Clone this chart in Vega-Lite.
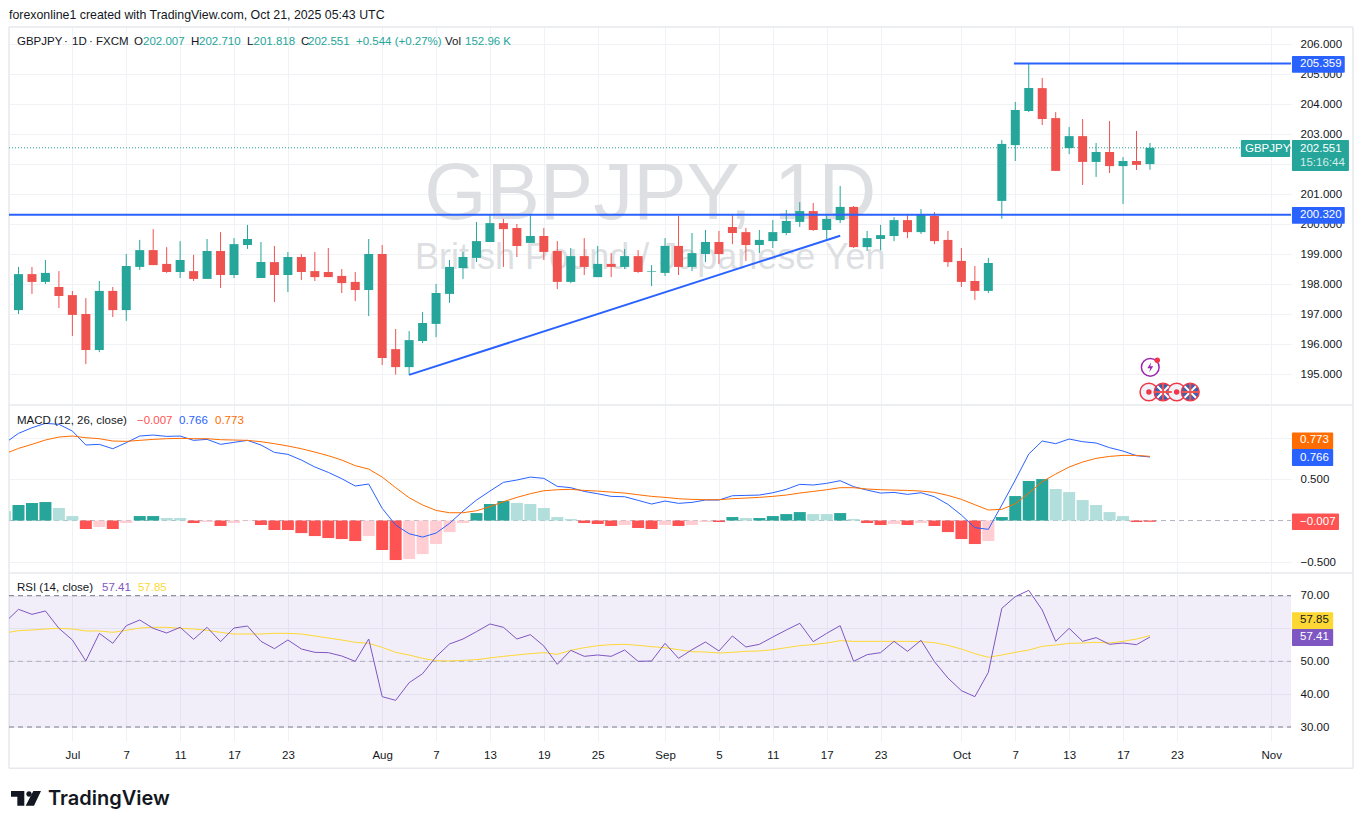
{
  "$schema": "https://vega.github.io/schema/vega-lite/v6.json",
  "padding": 0,
  "background": "white",
  "spacing": 0,
  "bounds": "flush",
  "resolve": {"scale": {"color": "independent"}},
  "config": {
    "font": "Liberation Sans",
    "view": {"stroke": null},
    "axis": {"labelFont": "Liberation Sans", "labelFontSize": 11.5, "labelColor": "#131722", "gridColor": "#f0f2f6", "gridWidth": 1, "domain": false, "ticks": false, "labelOverlap": false, "titlePadding": 0, "titleFontSize": 0, "titleOpacity": 0},
    "text": {"font": "Liberation Sans", "fontSize": 11.5, "align": "left", "baseline": "middle"}
  },
  "datasets": {
    "candles": [
      {"i":0,"dir":"up","o":197.14,"h":198.58,"l":197.01,"c":198.34},
      {"i":1,"dir":"down","o":198.34,"h":198.58,"l":197.68,"c":198.08},
      {"i":2,"dir":"up","o":198.08,"h":198.81,"l":198.01,"c":198.38},
      {"i":3,"dir":"down","o":197.91,"h":198.44,"l":197.21,"c":197.61},
      {"i":4,"dir":"down","o":197.64,"h":197.78,"l":196.28,"c":196.98},
      {"i":5,"dir":"down","o":197.01,"h":197.54,"l":195.34,"c":195.81},
      {"i":6,"dir":"up","o":195.81,"h":198.11,"l":195.74,"c":197.78},
      {"i":7,"dir":"down","o":197.78,"h":197.91,"l":196.91,"c":197.14},
      {"i":8,"dir":"up","o":197.14,"h":199.01,"l":196.78,"c":198.61},
      {"i":9,"dir":"up","o":198.58,"h":199.48,"l":198.48,"c":199.14},
      {"i":10,"dir":"down","o":199.14,"h":199.84,"l":198.64,"c":198.64},
      {"i":11,"dir":"down","o":198.68,"h":199.24,"l":198.38,"c":198.41},
      {"i":12,"dir":"up","o":198.41,"h":199.44,"l":198.21,"c":198.81},
      {"i":13,"dir":"down","o":198.44,"h":198.98,"l":198.11,"c":198.18},
      {"i":14,"dir":"up","o":198.18,"h":199.51,"l":198.18,"c":199.11},
      {"i":15,"dir":"down","o":199.11,"h":199.74,"l":197.88,"c":198.31},
      {"i":16,"dir":"up","o":198.31,"h":199.54,"l":198.21,"c":199.34},
      {"i":17,"dir":"up","o":199.31,"h":199.98,"l":199.18,"c":199.51},
      {"i":18,"dir":"up","o":198.21,"h":199.41,"l":198.21,"c":198.74},
      {"i":19,"dir":"down","o":198.74,"h":199.28,"l":197.41,"c":198.31},
      {"i":20,"dir":"up","o":198.31,"h":199.08,"l":197.74,"c":198.91},
      {"i":21,"dir":"down","o":198.91,"h":199.01,"l":198.14,"c":198.41},
      {"i":22,"dir":"down","o":198.44,"h":199.08,"l":198.11,"c":198.24},
      {"i":23,"dir":"down","o":198.41,"h":199.21,"l":198.24,"c":198.24},
      {"i":24,"dir":"down","o":198.28,"h":198.51,"l":197.71,"c":198.04},
      {"i":25,"dir":"down","o":198.08,"h":198.41,"l":197.44,"c":197.81},
      {"i":26,"dir":"up","o":197.81,"h":199.51,"l":196.94,"c":199.01},
      {"i":27,"dir":"down","o":199.01,"h":199.31,"l":195.31,"c":195.54},
      {"i":28,"dir":"down","o":195.84,"h":196.51,"l":194.99,"c":195.24},
      {"i":29,"dir":"up","o":195.24,"h":196.44,"l":194.98,"c":196.14},
      {"i":30,"dir":"up","o":196.11,"h":197.08,"l":196.04,"c":196.71},
      {"i":31,"dir":"up","o":196.68,"h":198.01,"l":196.24,"c":197.71},
      {"i":32,"dir":"up","o":197.68,"h":198.81,"l":197.38,"c":198.58},
      {"i":33,"dir":"up","o":198.54,"h":199.08,"l":198.18,"c":198.91},
      {"i":34,"dir":"up","o":198.88,"h":200.08,"l":198.74,"c":199.44},
      {"i":35,"dir":"up","o":199.41,"h":200.31,"l":199.41,"c":200.04},
      {"i":36,"dir":"down","o":200.04,"h":200.18,"l":198.58,"c":199.84},
      {"i":37,"dir":"down","o":199.88,"h":200.01,"l":198.91,"c":199.28},
      {"i":38,"dir":"up","o":199.38,"h":200.31,"l":199.38,"c":199.61},
      {"i":39,"dir":"down","o":199.61,"h":199.88,"l":198.81,"c":199.08},
      {"i":40,"dir":"down","o":199.11,"h":199.44,"l":197.84,"c":198.08},
      {"i":41,"dir":"up","o":198.08,"h":199.21,"l":198.04,"c":198.94},
      {"i":42,"dir":"down","o":198.94,"h":199.54,"l":198.31,"c":198.58},
      {"i":43,"dir":"up","o":198.24,"h":199.28,"l":198.24,"c":198.68},
      {"i":44,"dir":"down","o":198.68,"h":199.04,"l":198.24,"c":198.58},
      {"i":45,"dir":"up","o":198.58,"h":199.18,"l":198.51,"c":198.94},
      {"i":46,"dir":"down","o":198.94,"h":199.14,"l":198.38,"c":198.41},
      {"i":47,"dir":"up","o":198.42,"h":198.64,"l":197.94,"c":198.44},
      {"i":48,"dir":"up","o":198.38,"h":199.54,"l":198.28,"c":199.28},
      {"i":49,"dir":"down","o":199.28,"h":200.28,"l":198.31,"c":198.58},
      {"i":50,"dir":"up","o":198.58,"h":199.71,"l":198.44,"c":199.04},
      {"i":51,"dir":"up","o":199.01,"h":199.81,"l":198.74,"c":199.41},
      {"i":52,"dir":"down","o":199.41,"h":199.78,"l":198.68,"c":199.01},
      {"i":53,"dir":"down","o":199.91,"h":200.34,"l":199.34,"c":199.71},
      {"i":54,"dir":"down","o":199.74,"h":199.88,"l":198.78,"c":199.31},
      {"i":55,"dir":"up","o":199.31,"h":199.81,"l":199.04,"c":199.48},
      {"i":56,"dir":"up","o":199.44,"h":200.14,"l":199.21,"c":199.74},
      {"i":57,"dir":"up","o":199.71,"h":200.48,"l":199.64,"c":200.11},
      {"i":58,"dir":"up","o":200.08,"h":200.74,"l":199.91,"c":200.44},
      {"i":59,"dir":"down","o":200.44,"h":200.71,"l":199.78,"c":199.81},
      {"i":60,"dir":"up","o":199.81,"h":200.34,"l":199.51,"c":200.18},
      {"i":61,"dir":"up","o":200.14,"h":201.28,"l":200.04,"c":200.58},
      {"i":62,"dir":"down","o":200.58,"h":200.61,"l":199.21,"c":199.24},
      {"i":63,"dir":"up","o":199.24,"h":199.78,"l":199.11,"c":199.54},
      {"i":64,"dir":"up","o":199.51,"h":199.98,"l":199.14,"c":199.64},
      {"i":65,"dir":"up","o":199.61,"h":200.24,"l":199.44,"c":200.14},
      {"i":66,"dir":"down","o":200.14,"h":200.34,"l":199.54,"c":199.74},
      {"i":67,"dir":"up","o":199.74,"h":200.51,"l":199.68,"c":200.31},
      {"i":68,"dir":"down","o":200.28,"h":200.41,"l":199.34,"c":199.44},
      {"i":69,"dir":"down","o":199.48,"h":199.78,"l":198.58,"c":198.74},
      {"i":70,"dir":"down","o":198.78,"h":199.21,"l":197.91,"c":198.08},
      {"i":71,"dir":"down","o":198.11,"h":198.61,"l":197.48,"c":197.78},
      {"i":72,"dir":"up","o":197.78,"h":198.88,"l":197.71,"c":198.71},
      {"i":73,"dir":"up","o":200.78,"h":202.81,"l":200.18,"c":202.68},
      {"i":74,"dir":"up","o":202.64,"h":204.08,"l":202.11,"c":203.81},
      {"i":75,"dir":"up","o":203.78,"h":205.34,"l":203.74,"c":204.54},
      {"i":76,"dir":"down","o":204.54,"h":204.88,"l":203.31,"c":203.51},
      {"i":77,"dir":"down","o":203.54,"h":203.74,"l":201.78,"c":201.78},
      {"i":78,"dir":"up","o":202.54,"h":203.24,"l":202.34,"c":202.94},
      {"i":79,"dir":"down","o":202.94,"h":203.51,"l":201.31,"c":202.08},
      {"i":80,"dir":"up","o":202.08,"h":202.71,"l":201.58,"c":202.41},
      {"i":81,"dir":"down","o":202.41,"h":203.44,"l":201.71,"c":201.94},
      {"i":82,"dir":"up","o":201.94,"h":202.24,"l":200.68,"c":202.11},
      {"i":83,"dir":"down","o":202.11,"h":203.11,"l":201.81,"c":201.98},
      {"i":84,"dir":"up","o":202.007,"h":202.71,"l":201.818,"c":202.551}
    ],
    "macd": [
      {"i":-1,"hist":0.114,"state":"L","macd":0.934,"signal":0.805},
      {"i":0,"hist":0.187,"state":"G","macd":1.05,"signal":0.869},
      {"i":1,"hist":0.211,"state":"G","macd":1.118,"signal":0.918},
      {"i":2,"hist":0.223,"state":"G","macd":1.171,"signal":0.97},
      {"i":3,"hist":0.151,"state":"L","macd":1.159,"signal":1.006},
      {"i":4,"hist":0.054,"state":"L","macd":1.078,"signal":1.018},
      {"i":5,"hist":-0.102,"state":"R","macd":0.91,"signal":0.998},
      {"i":6,"hist":-0.078,"state":"P","macd":0.918,"signal":0.986},
      {"i":7,"hist":-0.102,"state":"R","macd":0.865,"signal":0.958},
      {"i":8,"hist":-0.03,"state":"P","macd":0.938,"signal":0.954},
      {"i":9,"hist":0.054,"state":"G","macd":1.018,"signal":0.966},
      {"i":10,"hist":0.054,"state":"G","macd":1.03,"signal":0.978},
      {"i":11,"hist":0.03,"state":"L","macd":1.014,"signal":0.986},
      {"i":12,"hist":0.03,"state":"L","macd":1.018,"signal":0.99},
      {"i":13,"hist":-0.03,"state":"R","macd":0.966,"signal":0.986},
      {"i":14,"hist":-0.018,"state":"P","macd":0.978,"signal":0.986},
      {"i":15,"hist":-0.066,"state":"R","macd":0.918,"signal":0.974},
      {"i":16,"hist":-0.03,"state":"P","macd":0.942,"signal":0.97},
      {"i":17,"hist":-0.006,"state":"P","macd":0.966,"signal":0.966},
      {"i":18,"hist":-0.054,"state":"R","macd":0.91,"signal":0.95},
      {"i":19,"hist":-0.114,"state":"R","macd":0.821,"signal":0.926},
      {"i":20,"hist":-0.114,"state":"R","macd":0.797,"signal":0.898},
      {"i":21,"hist":-0.151,"state":"R","macd":0.729,"signal":0.865},
      {"i":22,"hist":-0.187,"state":"R","macd":0.645,"signal":0.825},
      {"i":23,"hist":-0.211,"state":"R","macd":0.58,"signal":0.781},
      {"i":24,"hist":-0.223,"state":"R","macd":0.504,"signal":0.729},
      {"i":25,"hist":-0.247,"state":"R","macd":0.416,"signal":0.661},
      {"i":26,"hist":-0.187,"state":"P","macd":0.44,"signal":0.62},
      {"i":27,"hist":-0.355,"state":"R","macd":0.147,"signal":0.524},
      {"i":28,"hist":-0.476,"state":"R","macd":-0.054,"signal":0.396},
      {"i":29,"hist":-0.464,"state":"P","macd":-0.159,"signal":0.275},
      {"i":30,"hist":-0.404,"state":"P","macd":-0.199,"signal":0.187},
      {"i":31,"hist":-0.283,"state":"P","macd":-0.151,"signal":0.122},
      {"i":32,"hist":-0.139,"state":"P","macd":-0.034,"signal":0.094},
      {"i":33,"hist":-0.03,"state":"P","macd":0.114,"signal":0.094},
      {"i":34,"hist":0.09,"state":"G","macd":0.247,"signal":0.118},
      {"i":35,"hist":0.199,"state":"G","macd":0.355,"signal":0.167},
      {"i":36,"hist":0.235,"state":"G","macd":0.46,"signal":0.227},
      {"i":37,"hist":0.211,"state":"L","macd":0.488,"signal":0.279},
      {"i":38,"hist":0.199,"state":"L","macd":0.524,"signal":0.323},
      {"i":39,"hist":0.151,"state":"L","macd":0.508,"signal":0.359},
      {"i":40,"hist":0.042,"state":"L","macd":0.412,"signal":0.371},
      {"i":41,"hist":0.018,"state":"L","macd":0.396,"signal":0.376},
      {"i":42,"hist":-0.03,"state":"R","macd":0.351,"signal":0.363},
      {"i":43,"hist":-0.042,"state":"R","macd":0.323,"signal":0.355},
      {"i":44,"hist":-0.066,"state":"R","macd":0.291,"signal":0.343},
      {"i":45,"hist":-0.054,"state":"P","macd":0.287,"signal":0.331},
      {"i":46,"hist":-0.09,"state":"R","macd":0.243,"signal":0.311},
      {"i":47,"hist":-0.102,"state":"R","macd":0.199,"signal":0.291},
      {"i":48,"hist":-0.054,"state":"P","macd":0.235,"signal":0.279},
      {"i":49,"hist":-0.066,"state":"R","macd":0.207,"signal":0.263},
      {"i":50,"hist":-0.054,"state":"P","macd":0.219,"signal":0.255},
      {"i":51,"hist":-0.018,"state":"P","macd":0.247,"signal":0.251},
      {"i":52,"hist":-0.018,"state":"R","macd":0.247,"signal":0.251},
      {"i":53,"hist":0.042,"state":"G","macd":0.299,"signal":0.263},
      {"i":54,"hist":0.03,"state":"L","macd":0.303,"signal":0.271},
      {"i":55,"hist":0.03,"state":"G","macd":0.307,"signal":0.279},
      {"i":56,"hist":0.054,"state":"G","macd":0.335,"signal":0.291},
      {"i":57,"hist":0.078,"state":"G","macd":0.376,"signal":0.307},
      {"i":58,"hist":0.102,"state":"G","macd":0.436,"signal":0.331},
      {"i":59,"hist":0.078,"state":"L","macd":0.428,"signal":0.351},
      {"i":60,"hist":0.078,"state":"L","macd":0.448,"signal":0.371},
      {"i":61,"hist":0.09,"state":"G","macd":0.48,"signal":0.396},
      {"i":62,"hist":0.018,"state":"L","macd":0.408,"signal":0.396},
      {"i":63,"hist":-0.03,"state":"R","macd":0.367,"signal":0.38},
      {"i":64,"hist":-0.054,"state":"R","macd":0.331,"signal":0.371},
      {"i":65,"hist":-0.042,"state":"P","macd":0.339,"signal":0.367},
      {"i":66,"hist":-0.054,"state":"R","macd":0.315,"signal":0.363},
      {"i":67,"hist":-0.03,"state":"P","macd":0.335,"signal":0.355},
      {"i":68,"hist":-0.066,"state":"R","macd":0.287,"signal":0.339},
      {"i":69,"hist":-0.139,"state":"R","macd":0.195,"signal":0.303},
      {"i":70,"hist":-0.223,"state":"R","macd":0.066,"signal":0.255},
      {"i":71,"hist":-0.283,"state":"R","macd":-0.086,"signal":0.191},
      {"i":72,"hist":-0.247,"state":"P","macd":-0.106,"signal":0.127},
      {"i":73,"hist":0.042,"state":"G","macd":0.187,"signal":0.135},
      {"i":74,"hist":0.295,"state":"G","macd":0.488,"signal":0.203},
      {"i":75,"hist":0.476,"state":"G","macd":0.801,"signal":0.331},
      {"i":76,"hist":0.5,"state":"G","macd":0.958,"signal":0.468},
      {"i":77,"hist":0.38,"state":"L","macd":0.926,"signal":0.56},
      {"i":78,"hist":0.343,"state":"L","macd":0.982,"signal":0.645},
      {"i":79,"hist":0.247,"state":"L","macd":0.95,"signal":0.705},
      {"i":80,"hist":0.187,"state":"L","macd":0.934,"signal":0.749},
      {"i":81,"hist":0.102,"state":"L","macd":0.878,"signal":0.773},
      {"i":82,"hist":0.054,"state":"L","macd":0.837,"signal":0.785},
      {"i":83,"hist":-0.018,"state":"R","macd":0.781,"signal":0.785},
      {"i":84,"hist":-0.015,"state":"R","macd":0.766,"signal":0.773}
    ],
    "rsi": [
      {"i":-1,"rsi":61.88,"ma":58.63},{"i":0,"rsi":65.84,"ma":59.34},{"i":1,"rsi":64.31,"ma":59.54},{"i":2,"rsi":65.33,"ma":59.85},
      {"i":3,"rsi":60.05,"ma":60.05},{"i":4,"rsi":56.5,"ma":59.85},{"i":5,"rsi":50.1,"ma":59.24},{"i":6,"rsi":58.53,"ma":59.24},
      {"i":7,"rsi":55.48,"ma":58.83},{"i":8,"rsi":60.86,"ma":59.44},{"i":9,"rsi":62.59,"ma":60.15},{"i":10,"rsi":60.05,"ma":60.36},
      {"i":11,"rsi":58.63,"ma":60.36},{"i":12,"rsi":60.36,"ma":60.05},{"i":13,"rsi":56.7,"ma":59.85},{"i":14,"rsi":60.36,"ma":59.44},
      {"i":15,"rsi":55.99,"ma":58.83},{"i":16,"rsi":60.15,"ma":58.32},{"i":17,"rsi":60.76,"ma":58.32},{"i":18,"rsi":56.09,"ma":58.32},
      {"i":19,"rsi":53.86,"ma":58.53},{"i":20,"rsi":56.5,"ma":58.53},{"i":21,"rsi":53.76,"ma":58.32},{"i":22,"rsi":52.74,"ma":57.72},
      {"i":23,"rsi":52.64,"ma":57.11},{"i":24,"rsi":51.62,"ma":56.5},{"i":25,"rsi":50.0,"ma":55.79},{"i":26,"rsi":56.8,"ma":55.48},
      {"i":27,"rsi":39.24,"ma":54.26},{"i":28,"rsi":38.12,"ma":52.74},{"i":29,"rsi":43.5,"ma":51.93},{"i":30,"rsi":46.24,"ma":50.91},
      {"i":31,"rsi":51.42,"ma":50.2},{"i":32,"rsi":55.28,"ma":50.1},{"i":33,"rsi":56.8,"ma":50.3},{"i":34,"rsi":59.04,"ma":50.51},
      {"i":35,"rsi":61.37,"ma":51.02},{"i":36,"rsi":60.36,"ma":51.52},{"i":37,"rsi":56.8,"ma":51.93},{"i":38,"rsi":58.12,"ma":52.34},
      {"i":39,"rsi":54.67,"ma":52.64},{"i":40,"rsi":49.09,"ma":52.13},{"i":41,"rsi":53.35,"ma":53.35},{"i":42,"rsi":51.52,"ma":54.16},
      {"i":43,"rsi":51.93,"ma":54.77},{"i":44,"rsi":51.52,"ma":55.08},{"i":45,"rsi":53.45,"ma":55.18},{"i":46,"rsi":50.0,"ma":54.87},
      {"i":47,"rsi":50.1,"ma":54.47},{"i":48,"rsi":55.48,"ma":54.16},{"i":49,"rsi":50.91,"ma":53.55},{"i":50,"rsi":53.55,"ma":52.94},
      {"i":51,"rsi":55.89,"ma":52.84},{"i":52,"rsi":53.15,"ma":52.54},{"i":53,"rsi":57.72,"ma":52.74},{"i":54,"rsi":54.37,"ma":53.05},
      {"i":55,"rsi":55.18,"ma":53.15},{"i":56,"rsi":57.41,"ma":53.55},{"i":57,"rsi":59.54,"ma":54.16},{"i":58,"rsi":61.57,"ma":54.77},
      {"i":59,"rsi":55.99,"ma":55.08},{"i":60,"rsi":58.53,"ma":55.58},{"i":61,"rsi":60.86,"ma":56.29},{"i":62,"rsi":50.0,"ma":56.09},
      {"i":63,"rsi":52.03,"ma":56.09},{"i":64,"rsi":52.64,"ma":56.09},{"i":65,"rsi":56.09,"ma":56.09},{"i":66,"rsi":53.05,"ma":56.09},
      {"i":67,"rsi":56.4,"ma":55.99},{"i":68,"rsi":49.9,"ma":55.69},{"i":69,"rsi":44.92,"ma":54.87},{"i":70,"rsi":41.07,"ma":53.76},
      {"i":71,"rsi":39.24,"ma":52.34},{"i":72,"rsi":46.65,"ma":51.22},{"i":73,"rsi":66.14,"ma":51.93},{"i":74,"rsi":69.7,"ma":52.74},
      {"i":75,"rsi":71.62,"ma":53.45},{"i":76,"rsi":65.63,"ma":54.57},{"i":77,"rsi":56.09,"ma":54.97},{"i":78,"rsi":60.05,"ma":55.48},
      {"i":79,"rsi":56.09,"ma":55.58},{"i":80,"rsi":57.21,"ma":55.79},{"i":81,"rsi":55.18,"ma":55.58},{"i":82,"rsi":55.58,"ma":56.09},
      {"i":83,"rsi":55.08,"ma":56.8},{"i":84,"rsi":57.41,"ma":57.85}
    ]
  },
  "vconcat": [
    {
      "width": 1282,
      "height": 378,
      "resolve": {"scale": {"color": "independent", "fill": "independent", "stroke": "independent"}},
      "encoding": {
        "x": {"field": "i", "type": "quantitative", "title": null, "scale": {"domain": [-0.705, 94.469], "nice": false, "zero": false, "padding": 0},
          "axis": {"values": [4,8,12,16,20,27,31,35,39,43,48,52,56,60,64,70,74,78,82,86,93], "labels": false, "grid": true}},
        "y": {"field": "p", "type": "quantitative", "title": null, "scale": {"domain": [193.977, 206.577], "nice": false, "zero": false},
          "axis": {"orient": "right", "values": [195,196,197,198,199,200,201,202,203,204,205,206], "format": ".3f", "labelPadding": 9, "grid": true}}
      },
      "layer": [
        {
          "data": {"values": [
            {"i":-0.705,"i2":99.07,"p":206.577,"p2":206.577},
            {"i":-0.705,"i2":-0.705,"p":206.577,"p2":193.977},
            {"i":99.07,"i2":99.07,"p":206.577,"p2":193.977},
            {"i":-0.705,"i2":99.07,"p":193.977,"p2":193.977}
          ]},
          "mark": {"type": "rule", "color": "#e6e8ee", "strokeWidth": 1.5},
          "encoding": {"x2": {"field": "i2"}, "y2": {"field": "p2"}}
        },
        {
          "data": {"values": [{"i": 46.9, "p": 200.98, "label": "GBPJPY, 1D"}]},
          "mark": {"type": "text", "align": "center", "fontSize": 80, "color": "#dddfe2"},
          "encoding": {"text": {"field": "label"}}
        },
        {
          "data": {"values": [{"i": 46.9, "p": 198.88, "label": "British Pound / Japanese Yen"}]},
          "mark": {"type": "text", "align": "center", "fontSize": 36, "color": "#dddfe2"},
          "encoding": {"text": {"field": "label"}}
        },
        {
          "data": {"values": [{"i":-0.705,"i2":94.469,"p":202.551,"p2":202.551}]},
          "mark": {"type": "rule", "color": "#26a69a", "strokeWidth": 1, "strokeDash": [1, 2]},
          "encoding": {"x2": {"field": "i2"}, "y2": {"field": "p2"}}
        },
        {
          "data": {"name": "candles"},
          "mark": {"type": "rule", "strokeWidth": 1},
          "encoding": {
            "y": {"field": "l", "type": "quantitative", "title": null},
            "y2": {"field": "h"},
            "color": {"field": "dir", "type": "nominal", "scale": {"domain": ["up", "down"], "range": ["#26a69a", "#ef5350"]}, "legend": null}
          }
        },
        {
          "data": {"name": "candles"},
          "mark": {"type": "bar", "size": 9, "orient": "vertical"},
          "encoding": {
            "y": {"field": "o", "type": "quantitative", "title": null, "stack": null},
            "y2": {"field": "c"},
            "color": {"field": "dir", "type": "nominal", "scale": {"domain": ["up", "down"], "range": ["#26a69a", "#ef5350"]}, "legend": null}
          }
        },
        {
          "data": {"values": [
            {"i":-0.705,"i2":94.469,"p":200.32,"p2":200.32},
            {"i":73.9,"i2":94.469,"p":205.359,"p2":205.359},
            {"i":29,"i2":61,"p":194.98,"p2":199.62}
          ]},
          "mark": {"type": "rule", "color": "#2962ff", "strokeWidth": 2},
          "encoding": {"x2": {"field": "i2"}, "y2": {"field": "p2"}}
        },
        {
          "data": {"values": [
            {"i":94.54,"i2":98.46,"p":205.61,"p2":205.05,"kind":"blue"},
            {"i":94.54,"i2":98.46,"p":200.58,"p2":200.02,"kind":"blue"},
            {"i":90.75,"i2":94.4,"p":202.81,"p2":202.24,"kind":"teal"},
            {"i":94.54,"i2":98.77,"p":202.81,"p2":201.78,"kind":"teal"}
          ]},
          "mark": {"type": "rect", "cornerRadius": 1},
          "encoding": {
            "x2": {"field": "i2"},
            "y2": {"field": "p2"},
            "color": {"field": "kind", "type": "nominal", "scale": {"domain": ["blue", "teal"], "range": ["#2962ff", "#26a69a"]}, "legend": null}
          }
        },
        {
          "data": {"values": [{"i":-0.705,"p":206.977,"label":"forexonline1 created with TradingView.com, Oct 21, 2025 05:43 UTC"}]},
          "mark": {"type": "text", "fontSize": 12.36, "color": "#131722"},
          "encoding": {"text": {"field": "label"}}
        },
        {
          "data": {"values": [
            {"i":-0.111,"p":206.087,"label":"GBPJPY","kind":"dark"},
            {"i":3.378,"p":206.087,"label":"·","kind":"dark"},
            {"i":3.972,"p":206.087,"label":"1D","kind":"dark"},
            {"i":5.234,"p":206.087,"label":"·","kind":"dark"},
            {"i":5.753,"p":206.087,"label":"FXCM","kind":"dark"},
            {"i":8.575,"p":206.087,"label":"O","kind":"dark"},
            {"i":9.243,"p":206.087,"label":"202.007","kind":"teal"},
            {"i":12.806,"p":206.087,"label":"H","kind":"dark"},
            {"i":13.4,"p":206.087,"label":"202.710","kind":"teal"},
            {"i":16.964,"p":206.087,"label":"L","kind":"dark"},
            {"i":17.446,"p":206.087,"label":"201.818","kind":"teal"},
            {"i":20.973,"p":206.087,"label":"C","kind":"dark"},
            {"i":21.492,"p":206.087,"label":"202.551","kind":"teal"},
            {"i":25.056,"p":206.087,"label":"+0.544 (+0.27%)","kind":"teal"},
            {"i":31.663,"p":206.087,"label":"Vol","kind":"dark"},
            {"i":33.148,"p":206.087,"label":"152.96 K","kind":"teal"},
            {"i":95.14,"p":205.33,"label":"205.359","kind":"white"},
            {"i":95.14,"p":200.3,"label":"200.320","kind":"white"},
            {"i":91.05,"p":202.52,"label":"GBPJPY","kind":"white"},
            {"i":95.14,"p":202.52,"label":"202.551","kind":"white"},
            {"i":95.14,"p":202.05,"label":"15:16:44","kind":"muted"}
          ]},
          "mark": {"type": "text"},
          "encoding": {
            "text": {"field": "label"},
            "color": {"field": "kind", "type": "nominal", "scale": {"domain": ["dark", "teal", "white", "muted"], "range": ["#131722", "#26a69a", "#ffffff", "#d4edea"]}, "legend": null}
          }
        },
        {
          "data": {"values": [
            {"i":84.02,"p":195.233,"kind":"energy"},
            {"i":83.92,"p":194.41,"kind":"calendar"},
            {"i":84.97,"p":194.41,"kind":"flag"},
            {"i":85.98,"p":194.41,"kind":"calendar"},
            {"i":86.99,"p":194.41,"kind":"flag"}
          ]},
          "mark": {"type": "point", "filled": true, "shape": "circle", "size": 314, "strokeWidth": 1.5, "opacity": 1},
          "encoding": {
            "fill": {"field": "kind", "type": "nominal", "scale": {"domain": ["energy", "calendar", "flag"], "range": ["#ffffff", "#f0f3fa", "#3f5fb0"]}, "legend": null},
            "stroke": {"field": "kind", "type": "nominal", "scale": {"domain": ["energy", "calendar", "flag"], "range": ["#9c27b0", "#f23645", "#f23645"]}, "legend": null}
          }
        },
        {
          "data": {"values": [{"i":84.97,"p":194.41},{"i":86.99,"p":194.41}]},
          "mark": {"type": "point", "filled": false, "shape": "M-0.5 -0.5L0.5 0.5M0.5 -0.5L-0.5 0.5", "size": 520, "strokeWidth": 2, "color": "#ffffff", "opacity": 1}
        },
        {
          "data": {"values": [{"i":84.97,"p":194.41},{"i":86.99,"p":194.41}]},
          "mark": {"type": "point", "filled": false, "shape": "M0 -0.5V0.5M-0.5 0H0.5", "size": 1200, "strokeWidth": 2, "color": "#ef5350", "opacity": 1}
        },
        {
          "data": {"values": [{"i":83.92,"p":194.41},{"i":85.98,"p":194.41},{"i":84.54,"p":195.467}]},
          "mark": {"type": "point", "filled": true, "shape": "circle", "size": 30, "color": "#f23645", "opacity": 1}
        },
        {
          "data": {"values": [{"i":84.02,"p":195.233}]},
          "mark": {"type": "point", "filled": true, "shape": "M0.1 -0.5L-0.3 0.1H0L-0.1 0.5L0.3 -0.1H0Z", "size": 400, "color": "#9c27b0", "opacity": 1}
        },
        {
          "data": {"values": [{"i":-1.34,"i2":99.81,"p":207.444,"p2":207.444}]},
          "mark": {"type": "rule", "opacity": 0},
          "encoding": {"x2": {"field": "i2"}, "y2": {"field": "p2"}}
        }
      ]
    },
    {
      "width": 1282,
      "height": 168,
      "resolve": {"scale": {"color": "independent"}},
      "encoding": {
        "x": {"field": "i", "type": "quantitative", "title": null, "scale": {"domain": [-0.705, 94.469], "nice": false, "zero": false, "padding": 0},
          "axis": {"values": [4,8,12,16,20,27,31,35,39,43,48,52,56,60,64,70,74,78,82,86,93], "labels": false, "grid": true}},
        "y": {"field": "p", "type": "quantitative", "title": null, "scale": {"domain": [-0.632, 1.392], "nice": false, "zero": false},
          "axis": {"orient": "right", "values": [-0.5, 0.5, 1], "labelExpr": "datum.value == 1 ? '' : replace(format(datum.value, '.3f'), '-', '−')", "labelPadding": 9, "grid": true}}
      },
      "layer": [
        {
          "data": {"values": [
            {"i":-0.705,"i2":-0.705,"p":1.392,"p2":-0.632},
            {"i":99.07,"i2":99.07,"p":1.392,"p2":-0.632},
            {"i":-0.705,"i2":99.07,"p":-0.632,"p2":-0.632}
          ]},
          "mark": {"type": "rule", "color": "#e6e8ee", "strokeWidth": 1.5},
          "encoding": {"x2": {"field": "i2"}, "y2": {"field": "p2"}}
        },
        {
          "data": {"values": [{"i":-0.705,"i2":94.469,"p":0,"p2":0}]},
          "mark": {"type": "rule", "color": "#b2b5be", "strokeWidth": 1, "strokeDash": [5, 4]},
          "encoding": {"x2": {"field": "i2"}, "y2": {"field": "p2"}}
        },
        {
          "data": {"name": "macd"},
          "mark": {"type": "bar", "size": 12, "orient": "vertical", "clip": true},
          "encoding": {
            "y": {"field": "hist", "type": "quantitative", "title": null, "stack": null},
            "color": {"field": "state", "type": "nominal", "scale": {"domain": ["G", "L", "P", "R"], "range": ["#26a69a", "#b2dfdb", "#ffcdd2", "#ff5252"]}, "legend": null}
          }
        },
        {
          "data": {"name": "macd"},
          "mark": {"type": "line", "color": "#2962ff", "strokeWidth": 1, "clip": true},
          "encoding": {"y": {"field": "macd", "type": "quantitative", "title": null}}
        },
        {
          "data": {"name": "macd"},
          "mark": {"type": "line", "color": "#ff6d00", "strokeWidth": 1, "clip": true},
          "encoding": {"y": {"field": "signal", "type": "quantitative", "title": null}}
        },
        {
          "data": {"values": [
            {"i":94.54,"i2":97.6,"p":1.062,"p2":0.861,"kind":"orange"},
            {"i":94.54,"i2":97.6,"p":0.861,"p2":0.657,"kind":"blue"},
            {"i":94.54,"i2":98.03,"p":0.086,"p2":-0.114,"kind":"red"}
          ]},
          "mark": {"type": "rect", "cornerRadius": 1},
          "encoding": {
            "x2": {"field": "i2"},
            "y2": {"field": "p2"},
            "color": {"field": "kind", "type": "nominal", "scale": {"domain": ["orange", "blue", "red"], "range": ["#ff6d00", "#2962ff", "#ff5252"]}, "legend": null}
          }
        },
        {
          "data": {"values": [
            {"i":-0.111,"p":1.203,"label":"MACD (12, 26, close)","kind":"dark"},
            {"i":8.798,"p":1.203,"label":"−0.007","kind":"red"},
            {"i":11.916,"p":1.203,"label":"0.766","kind":"blue"},
            {"i":14.588,"p":1.203,"label":"0.773","kind":"orange"},
            {"i":95.14,"p":0.966,"label":"0.773","kind":"white"},
            {"i":95.14,"p":0.757,"label":"0.766","kind":"white"},
            {"i":95.14,"p":-0.014,"label":"−0.007","kind":"white"}
          ]},
          "mark": {"type": "text"},
          "encoding": {
            "text": {"field": "label"},
            "color": {"field": "kind", "type": "nominal", "scale": {"domain": ["dark", "red", "blue", "orange", "white"], "range": ["#131722", "#ff5252", "#2962ff", "#ff6d00", "#ffffff"]}, "legend": null}
          }
        }
      ]
    },
    {
      "width": 1282,
      "height": 168,
      "resolve": {"scale": {"color": "independent"}},
      "encoding": {
        "x": {"field": "i", "type": "quantitative", "title": null, "scale": {"domain": [-0.705, 94.469], "nice": false, "zero": false},
          "axis": {"values": [4,8,12,16,20,27,31,35,39,43,48,52,56,60,64,70,74,78,82,86,93], "grid": true, "labelPadding": 8,
            "labelExpr": "{'4':'Jul','8':'7','12':'11','16':'17','20':'23','27':'Aug','31':'7','35':'13','39':'19','43':'25','48':'Sep','52':'5','56':'11','60':'17','64':'23','70':'Oct','74':'7','78':'13','82':'17','86':'23','93':'Nov'}[datum.value]"}},
        "y": {"field": "p", "type": "quantitative", "title": null, "scale": {"domain": [25.74, 76.9], "nice": false, "zero": false},
          "axis": {"orient": "right", "values": [30,40,50,60,70], "labelExpr": "datum.value == 60 ? '' : format(datum.value, '.2f')", "labelPadding": 9, "grid": true}}
      },
      "layer": [
        {
          "data": {"values": [
            {"i":-0.705,"i2":-0.705,"p":76.9,"p2":17.41},
            {"i":99.07,"i2":99.07,"p":76.9,"p2":17.41},
            {"i":-0.705,"i2":99.07,"p":17.41,"p2":17.41}
          ]},
          "mark": {"type": "rule", "color": "#e6e8ee", "strokeWidth": 1.5},
          "encoding": {"x2": {"field": "i2"}, "y2": {"field": "p2"}}
        },
        {
          "data": {"values": [{"i":-0.705,"i2":94.469,"p":70,"p2":30}]},
          "mark": {"type": "rect", "color": "#7e57c2", "opacity": 0.1},
          "encoding": {"x2": {"field": "i2"}, "y2": {"field": "p2"}}
        },
        {
          "data": {"values": [
            {"i":-0.705,"i2":94.469,"p":70,"p2":70},
            {"i":-0.705,"i2":94.469,"p":30,"p2":30}
          ]},
          "mark": {"type": "rule", "color": "#787b86", "strokeWidth": 1, "strokeDash": [5, 4]},
          "encoding": {"x2": {"field": "i2"}, "y2": {"field": "p2"}}
        },
        {
          "data": {"values": [{"i":-0.705,"i2":94.469,"p":50,"p2":50}]},
          "mark": {"type": "rule", "color": "#787b86", "strokeWidth": 1, "strokeDash": [5, 4], "opacity": 0.5},
          "encoding": {"x2": {"field": "i2"}, "y2": {"field": "p2"}}
        },
        {
          "data": {"name": "rsi"},
          "mark": {"type": "line", "color": "#fdd835", "strokeWidth": 1, "clip": true},
          "encoding": {"y": {"field": "ma", "type": "quantitative", "title": null}}
        },
        {
          "data": {"name": "rsi"},
          "mark": {"type": "line", "color": "#7e57c2", "strokeWidth": 1, "clip": true},
          "encoding": {"y": {"field": "rsi", "type": "quantitative", "title": null}}
        },
        {
          "data": {"values": [
            {"i":94.54,"i2":97.6,"p":64.92,"p2":59.85,"kind":"yellow"},
            {"i":94.54,"i2":97.6,"p":59.85,"p2":54.67,"kind":"purple"}
          ]},
          "mark": {"type": "rect", "cornerRadius": 1},
          "encoding": {
            "x2": {"field": "i2"},
            "y2": {"field": "p2"},
            "color": {"field": "kind", "type": "nominal", "scale": {"domain": ["yellow", "purple"], "range": ["#fdd835", "#7e57c2"]}, "legend": null}
          }
        },
        {
          "data": {"values": [
            {"i":-0.111,"p":72.23,"label":"RSI (14, close)","kind":"dark"},
            {"i":6.2,"p":72.23,"label":"57.41","kind":"purple"},
            {"i":8.87,"p":72.23,"label":"57.85","kind":"yellow"},
            {"i":95.14,"p":62.49,"label":"57.85","kind":"dark"},
            {"i":95.14,"p":57.31,"label":"57.41","kind":"white"}
          ]},
          "mark": {"type": "text"},
          "encoding": {
            "text": {"field": "label"},
            "color": {"field": "kind", "type": "nominal", "scale": {"domain": ["dark", "purple", "yellow", "white"], "range": ["#131722", "#7e57c2", "#fdd835", "#ffffff"]}, "legend": null}
          }
        },
        {
          "data": {"values": [{"i":0.557,"p":8.27}]},
          "mark": {"type": "point", "filled": true, "size": 3600, "color": "#131722", "opacity": 1,
            "shape": "M-0.5 -0.244H-0.056V0.244H-0.289V-0.056H-0.5ZM0.244 -0.244H0.5L0.267 0.244H-0.011ZM0.01 -0.144A0.09 0.09 0 1 0 0.19 -0.144A0.09 0.09 0 1 0 0.01 -0.144Z"}
        },
        {
          "data": {"values": [{"i":2.19,"p":8.07,"label":"TradingView"}]},
          "mark": {"type": "text", "font": "Inter", "fontSize": 20, "fontWeight": 600, "color": "#131722"},
          "encoding": {"text": {"field": "label"}}
        }
      ]
    }
  ]
}
